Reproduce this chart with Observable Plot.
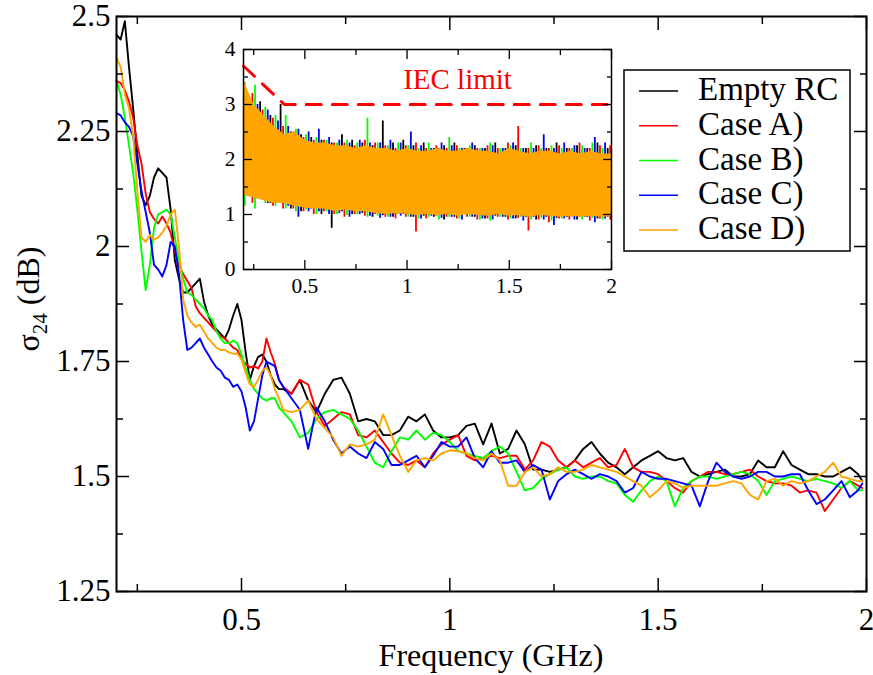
<!DOCTYPE html>
<html><head><meta charset="utf-8">
<script src="https://cdn.jsdelivr.net/npm/d3@7"></script>
<script src="https://cdn.jsdelivr.net/npm/@observablehq/plot@0.6"></script>
<style>
html,body{margin:0;padding:0;background:#fff;}
#wrap{position:relative;width:873px;height:675px;overflow:hidden;}
#wrap svg{position:absolute;}
#wrap svg text{font-family:"Liberation Serif","DejaVu Serif",serif;}
</style></head><body><div id="wrap"></div>
<script>
// ---------- main chart data (frequency in GHz, sigma_24 in dB) ----------
const freq = [0.2,0.21,0.22,0.23,0.24,0.25,0.26,0.27,0.28,0.29,0.3,0.31,0.32,0.33,0.34,0.35,0.36,0.37,0.38,0.39,0.4,0.41,0.42,0.43,0.44,0.45,0.46,0.47,0.48,0.49,0.5,0.51,0.52,0.53,0.54,0.55,0.56,0.57,0.58,0.59,0.6,
0.62,0.64,0.66,0.68,0.7,0.72,0.74,0.76,0.78,0.8,0.82,0.84,0.86,0.88,0.9,0.92,0.94,0.96,0.98,1,1.02,1.04,1.06,1.08,1.1,1.12,1.14,1.16,1.18,1.2,1.22,1.24,1.26,1.28,1.3,1.32,1.34,1.36,1.38,1.4,1.42,1.44,1.46,1.48,1.5,1.52,1.54,1.56,1.58,1.6,1.62,1.64,1.66,1.68,1.7,1.72,1.74,1.76,1.78,1.8,1.82,1.84,1.86,1.88,1.9,1.92,1.94,1.96,1.98,1.99];

const emptyRC = [2.46,2.45,2.49,2.39,2.30,2.20,2.11,2.09,2.11,2.15,2.17,2.16,2.15,2.08,1.97,1.93,1.90,1.90,1.91,1.92,1.93,1.88,1.85,1.83,1.82,1.81,1.80,1.82,1.85,1.875,1.84,1.77,1.71,1.74,1.76,1.765,1.75,1.72,1.70,1.69,1.69,
1.68,1.71,1.665,1.64,1.68,1.71,1.715,1.68,1.62,1.625,1.62,1.59,1.59,1.60,1.63,1.62,1.635,1.60,1.585,1.585,1.59,1.61,1.615,1.57,1.615,1.55,1.56,1.60,1.57,1.515,1.515,1.51,1.515,1.52,1.535,1.56,1.575,1.55,1.53,1.52,1.505,1.52,1.535,1.545,1.555,1.54,1.535,1.54,1.51,1.50,1.505,1.51,1.515,1.50,1.50,1.505,1.535,1.52,1.52,1.555,1.525,1.515,1.505,1.505,1.50,1.50,1.51,1.52,1.505,1.49];

const caseA = [2.36,2.355,2.34,2.315,2.28,2.22,2.18,2.115,2.075,2.06,2.05,2.065,2.05,2.03,1.99,1.96,1.94,1.925,1.91,1.87,1.855,1.845,1.835,1.825,1.815,1.805,1.80,1.79,1.78,1.775,1.755,1.745,1.737,1.74,1.735,1.75,1.80,1.77,1.745,1.71,1.695,
1.68,1.71,1.70,1.64,1.61,1.625,1.64,1.635,1.59,1.585,1.60,1.575,1.55,1.53,1.525,1.535,1.52,1.55,1.57,1.58,1.59,1.545,1.535,1.54,1.545,1.54,1.545,1.545,1.515,1.535,1.575,1.565,1.535,1.52,1.535,1.52,1.53,1.54,1.52,1.525,1.56,1.52,1.51,1.51,1.505,1.49,1.475,1.465,1.49,1.50,1.51,1.51,1.505,1.505,1.51,1.515,1.50,1.49,1.485,1.485,1.48,1.465,1.47,1.465,1.425,1.45,1.475,1.49,1.48,1.475];

const caseB = [2.36,2.33,2.28,2.22,2.16,2.08,1.99,1.905,1.96,2.04,2.07,2.075,2.08,2.07,2.02,1.97,1.93,1.90,1.895,1.885,1.875,1.865,1.85,1.84,1.815,1.80,1.79,1.79,1.795,1.79,1.765,1.735,1.71,1.69,1.68,1.67,1.665,1.67,1.67,1.65,1.64,
1.62,1.585,1.595,1.625,1.64,1.645,1.635,1.625,1.60,1.565,1.53,1.52,1.555,1.585,1.58,1.60,1.58,1.595,1.59,1.575,1.555,1.55,1.545,1.54,1.555,1.565,1.55,1.51,1.47,1.475,1.495,1.505,1.515,1.52,1.50,1.495,1.50,1.50,1.49,1.485,1.46,1.445,1.47,1.49,1.50,1.49,1.435,1.475,1.49,1.50,1.50,1.495,1.50,1.505,1.51,1.505,1.49,1.46,1.49,1.495,1.50,1.495,1.49,1.495,1.49,1.485,1.475,1.49,1.47,1.47];

const caseC = [2.29,2.285,2.27,2.26,2.24,2.18,2.12,2.075,2.03,1.96,1.95,1.935,1.96,2.01,2.0,1.94,1.84,1.775,1.78,1.79,1.80,1.78,1.765,1.75,1.737,1.73,1.715,1.71,1.695,1.70,1.685,1.65,1.60,1.62,1.67,1.72,1.75,1.745,1.74,1.71,1.695,
1.67,1.645,1.56,1.65,1.62,1.58,1.55,1.565,1.55,1.54,1.575,1.56,1.525,1.525,1.535,1.545,1.52,1.545,1.575,1.565,1.565,1.585,1.54,1.52,1.555,1.53,1.53,1.535,1.51,1.525,1.515,1.45,1.49,1.505,1.515,1.505,1.495,1.505,1.50,1.49,1.465,1.475,1.51,1.50,1.495,1.495,1.49,1.485,1.48,1.435,1.49,1.53,1.51,1.50,1.495,1.50,1.51,1.51,1.50,1.50,1.505,1.505,1.47,1.44,1.45,1.47,1.49,1.455,1.47,1.485];

const caseD = [2.41,2.39,2.33,2.30,2.24,2.12,2.02,2.01,2.025,2.015,2.02,2.03,2.045,2.07,2.08,2.0,1.885,1.85,1.835,1.825,1.83,1.815,1.80,1.79,1.78,1.775,1.775,1.77,1.767,1.767,1.755,1.725,1.70,1.695,1.71,1.73,1.737,1.72,1.69,1.67,1.645,
1.64,1.645,1.665,1.625,1.605,1.585,1.545,1.57,1.565,1.57,1.58,1.635,1.59,1.545,1.51,1.535,1.54,1.535,1.55,1.557,1.555,1.55,1.54,1.535,1.55,1.535,1.48,1.48,1.51,1.52,1.50,1.505,1.52,1.51,1.51,1.515,1.525,1.52,1.515,1.51,1.50,1.49,1.48,1.455,1.47,1.49,1.485,1.475,1.48,1.48,1.48,1.48,1.485,1.49,1.485,1.46,1.45,1.49,1.495,1.48,1.49,1.485,1.49,1.50,1.51,1.53,1.50,1.495,1.49,1.49];

const seriesNames = ["Empty RC", "Case A)", "Case B)", "Case C)", "Case D)"];
const seriesColors = ["#000000", "#ff0000", "#00ff00", "#0000ff", "#ffa500"];

const xMajorTicks = [0.5, 1, 1.5, 2];
const xMinorTicks = [0.25, 0.75, 1.25, 1.75];
const yMajorTicks = [1.25, 1.5, 1.75, 2, 2.25, 2.5];
const yMinorTicks = [1.375, 1.625, 1.875, 2.125, 2.375];

// ---------- inset data: raw-trace extremes (upper / lower) every 0.05 GHz ----------
const insetFreq = [0.2,0.25,0.3,0.35,0.4,0.45,0.5,0.55,0.6,0.65,0.7,0.75,0.8,0.85,0.9,0.95,1,1.05,1.1,1.15,1.2,1.25,1.3,1.35,1.4,1.45,1.5,1.55,1.6,1.65,1.7,1.75,1.8,1.85,1.9,1.95,2];
const emptyRCHi = [3.7,3.1,3.05,2.8,3.0,2.5,2.45,2.4,2.35,2.3,2.45,2.35,2.3,2.25,2.7,2.3,2.35,2.25,2.3,2.2,2.25,2.3,2.2,2.25,2.2,2.3,2.2,2.25,2.2,2.25,2.2,2.3,2.2,2.25,2.2,2.3,2.2];
const emptyRCLo = [1.25,1.35,1.3,1.2,1.2,1.1,1.05,1.1,1.0,0.75,1.05,1.0,1.02,0.95,0.98,0.95,1.0,0.95,0.97,0.95,0.9,0.95,1.0,0.95,0.92,0.97,0.95,0.92,0.95,0.9,0.95,0.93,0.95,0.9,0.95,0.92,0.95];
const caseAHi = [3.5,3.2,2.9,2.75,2.6,2.5,2.4,2.35,2.35,2.3,2.3,2.25,2.35,2.3,2.25,2.2,2.25,2.3,2.2,2.25,2.2,2.25,2.2,2.2,2.25,2.2,2.3,2.6,2.2,2.25,2.2,2.25,2.2,2.3,2.2,2.25,2.25];
const caseALo = [1.5,1.2,1.3,1.15,1.1,1.1,1.05,1.0,1.05,1.0,0.95,1.0,0.97,1.0,0.95,0.92,0.95,0.68,0.92,0.97,0.95,0.92,0.95,0.9,0.92,0.95,0.9,0.93,0.7,0.9,0.85,0.92,0.9,0.95,0.88,0.92,0.9];
const caseBHi = [3.4,3.35,2.95,2.8,2.8,2.55,2.45,2.4,2.35,2.3,2.35,2.3,2.75,2.3,2.25,2.3,2.25,2.2,2.3,2.2,2.4,2.2,2.25,2.2,2.3,2.2,2.25,2.2,2.3,2.2,2.25,2.2,2.2,2.25,2.3,2.2,2.25];
const caseBLo = [1.15,1.1,1.2,1.15,1.1,1.05,1.08,1.0,1.05,1.0,0.98,1.0,0.95,0.97,0.95,1.0,0.95,0.92,0.95,0.9,0.95,0.92,0.95,0.9,0.88,0.95,0.92,0.95,0.9,0.93,0.88,0.92,0.95,0.9,0.93,0.9,0.88];
const caseCHi = [2.6,3.0,2.9,2.7,2.6,2.55,2.5,2.55,2.4,2.35,2.3,2.35,2.3,2.3,2.35,2.3,2.5,2.25,2.2,2.3,2.25,2.2,2.3,2.2,2.25,2.2,2.3,2.2,2.2,2.45,2.2,2.3,2.25,2.2,2.4,2.3,2.25];
const caseCLo = [1.5,1.3,1.2,1.25,1.15,0.95,1.05,1.05,1.0,1.02,0.95,1.0,0.97,0.93,0.95,0.97,0.95,0.92,0.97,0.93,0.95,0.9,0.95,0.92,0.9,0.95,0.92,0.88,0.95,0.9,0.8,0.92,0.9,0.95,0.85,0.92,0.9];
const caseDHi = [3.45,3.0,2.8,2.6,2.45,2.5,2.35,2.3,2.3,2.25,2.25,2.2,2.25,2.2,2.2,2.15,2.2,2.15,2.15,2.2,2.15,2.15,2.2,2.15,2.15,2.1,2.2,2.15,2.1,2.15,2.15,2.1,2.15,2.1,2.15,2.1,2.1];
const caseDLo = [1.35,1.3,1.25,1.2,1.2,1.15,1.12,1.1,1.1,1.05,1.08,1.05,1.05,1.02,1.0,1.02,1.0,0.98,1.0,0.98,1.0,0.97,1.0,0.98,0.97,1.0,0.97,0.98,0.95,0.98,0.97,0.95,0.97,0.95,0.97,0.95,0.96];

const iecFreq = [0.2, 0.4, 2];
const iecLimit = [3.7, 3.0, 3.0];
const iecLabel = "IEC limit";

const insetXMajor = [0.5, 1, 1.5, 2];
const insetXMinor = [0.25, 0.75, 1.25, 1.75];
const insetYMajor = [0, 1, 2, 3, 4];
const insetYMinor = [0.5, 1.5, 2.5, 3.5];

// ---------- build tables ----------
const mainValues = [emptyRC, caseA, caseB, caseC, caseD];
const rows = seriesNames.flatMap((name, i) => freq.map((f, j) => ({freq: f, value: mainValues[i][j], series: name})));
const insetHi = [emptyRCHi, caseAHi, caseBHi, caseCHi, caseDHi];
const insetLo = [emptyRCLo, caseALo, caseBLo, caseCLo, caseDLo];
const insetRows = seriesNames.map((name, i) => insetFreq.map((f, j) => ({freq: f, hi: insetHi[i][j], lo: insetLo[i][j], series: name})));
const iecRows = iecFreq.map((f, i) => ({freq: f, limit: iecLimit[i]}));

const serif = "Liberation Serif, DejaVu Serif, serif";
const fmt = d => String(d);
const blank = () => "";

// ---------- main plot ----------
const main = Plot.plot({
  width: 873, height: 675,
  marginLeft: 116, marginTop: 16, marginRight: 7, marginBottom: 84,
  style: "font-family: 'Liberation Serif', serif; font-size: 31px; background: transparent; overflow: visible;",
  x: {domain: [0.2, 2], label: null},
  y: {domain: [1.25, 2.5], label: null},
  color: {domain: seriesNames, range: seriesColors},
  marks: [
    Plot.line(rows, {x: "freq", y: "value", z: "series", stroke: "series", strokeWidth: 1.9, strokeLinejoin: "round"}),
    Plot.frame({strokeWidth: 2}),
    Plot.axisX(xMajorTicks, {anchor: "bottom", tickSize: -13, tickPadding: 29, tickFormat: fmt, strokeWidth: 1.5, fontSize: 31, fontFamily: serif, fill: "black"}),
    Plot.axisX(xMinorTicks, {anchor: "bottom", tickSize: -7, tickFormat: blank, strokeWidth: 1.5}),
    Plot.axisX(xMajorTicks, {anchor: "top", tickSize: -13, tickFormat: blank, strokeWidth: 1.5}),
    Plot.axisX(xMinorTicks, {anchor: "top", tickSize: -7, tickFormat: blank, strokeWidth: 1.5}),
    Plot.axisY(yMajorTicks, {anchor: "left", tickSize: -13, tickPadding: 19, tickFormat: fmt, strokeWidth: 1.5, fontSize: 31, fontFamily: serif, fill: "black"}),
    Plot.axisY(yMinorTicks, {anchor: "left", tickSize: -7, tickFormat: blank, strokeWidth: 1.5}),
    Plot.axisY(yMajorTicks, {anchor: "right", tickSize: -13, tickFormat: blank, strokeWidth: 1.5}),
    Plot.axisY(yMinorTicks, {anchor: "right", tickSize: -7, tickFormat: blank, strokeWidth: 1.5})
  ]
});
main.style.left = "0px"; main.style.top = "0px";
document.getElementById("wrap").appendChild(main);

const svg = d3.select(main);
svg.append("text")
  .attr("x", 491).attr("y", 666)
  .style("text-anchor", "middle").style("font-family", serif).style("font-size", "32px")
  .attr("fill", "black")
  .text("Frequency (GHz)");
const yl = svg.append("text")
  .attr("transform", "translate(39,299) rotate(-90)")
  .style("text-anchor", "middle").style("font-family", serif).style("font-size", "32px")
  .attr("fill", "black").style("white-space", "pre");
yl.append("tspan").text("σ");
yl.append("tspan").style("font-size", "21px").attr("dy", 8).text("24");
yl.append("tspan").attr("dy", -8).text(" (dB)");

// legend
const lg = svg.append("g");
lg.append("rect").attr("x", 624).attr("y", 70).attr("width", 226).attr("height", 181)
  .attr("fill", "white").attr("stroke", "black").attr("stroke-width", 1.5);
seriesNames.forEach((name, i) => {
  const yy = 91 + i * 34.75;
  lg.append("line").attr("x1", 639).attr("x2", 678).attr("y1", yy).attr("y2", yy)
    .attr("stroke", seriesColors[i]).attr("stroke-width", 1.3);
  lg.append("text").attr("x", 698).attr("y", yy + 9)
    .style("text-anchor", "start").style("font-family", serif).style("font-size", "33px")
    .attr("fill", "black").text(name);
});

// ---------- inset ----------
const spikeOffsets = [-3.8, -1.3, 1.3, 3.8];
const inset = Plot.plot({
  width: 406, height: 262,
  marginLeft: 30, marginTop: 9, marginRight: 8, marginBottom: 33,
  style: "font-family: 'Liberation Serif', serif; font-size: 21px; background: transparent; overflow: visible;",
  x: {domain: [0.2, 2], label: null},
  y: {domain: [0, 4], label: null},
  color: {domain: seriesNames, range: seriesColors},
  marks: [
    ...[0, 1, 2, 3].map(i => Plot.ruleX(insetRows[i], {x: "freq", y1: "lo", y2: "hi", stroke: "series", strokeWidth: 1.8, dx: spikeOffsets[i], clip: true})),
    Plot.areaY(insetRows[4], {x: "freq", y1: "lo", y2: "hi", fill: "series", clip: true}),
    Plot.line(iecRows, {x: "freq", y: "limit", stroke: "#ff0000", strokeWidth: 3, strokeDasharray: "15,11"}),
    Plot.text([iecLabel], {text: d => d, frameAnchor: "top", lineAnchor: "top", dx: 30, dy: 18.7, fill: "#ff0000", fontSize: 29, fontFamily: serif}),
    Plot.frame({strokeWidth: 1.5}),
    Plot.axisX(insetXMajor, {anchor: "bottom", tickSize: -9, tickPadding: 17, tickFormat: fmt, strokeWidth: 1.3, fontSize: 21.5, fontFamily: serif, fill: "black"}),
    Plot.axisX(insetXMinor, {anchor: "bottom", tickSize: -5, tickFormat: blank, strokeWidth: 1.3}),
    Plot.axisX(insetXMajor, {anchor: "top", tickSize: -9, tickFormat: blank, strokeWidth: 1.3}),
    Plot.axisX(insetXMinor, {anchor: "top", tickSize: -5, tickFormat: blank, strokeWidth: 1.3}),
    Plot.axisY(insetYMajor, {anchor: "left", tickSize: -9, tickPadding: 17, tickFormat: fmt, strokeWidth: 1.3, fontSize: 21.5, fontFamily: serif, fill: "black"}),
    Plot.axisY(insetYMinor, {anchor: "left", tickSize: -5, tickFormat: blank, strokeWidth: 1.3}),
    Plot.axisY(insetYMajor, {anchor: "right", tickSize: -9, tickFormat: blank, strokeWidth: 1.3}),
    Plot.axisY(insetYMinor, {anchor: "right", tickSize: -5, tickFormat: blank, strokeWidth: 1.3})
  ]
});
inset.style.left = "213px"; inset.style.top = "40px";
document.getElementById("wrap").appendChild(inset);
</script>
</body></html>
